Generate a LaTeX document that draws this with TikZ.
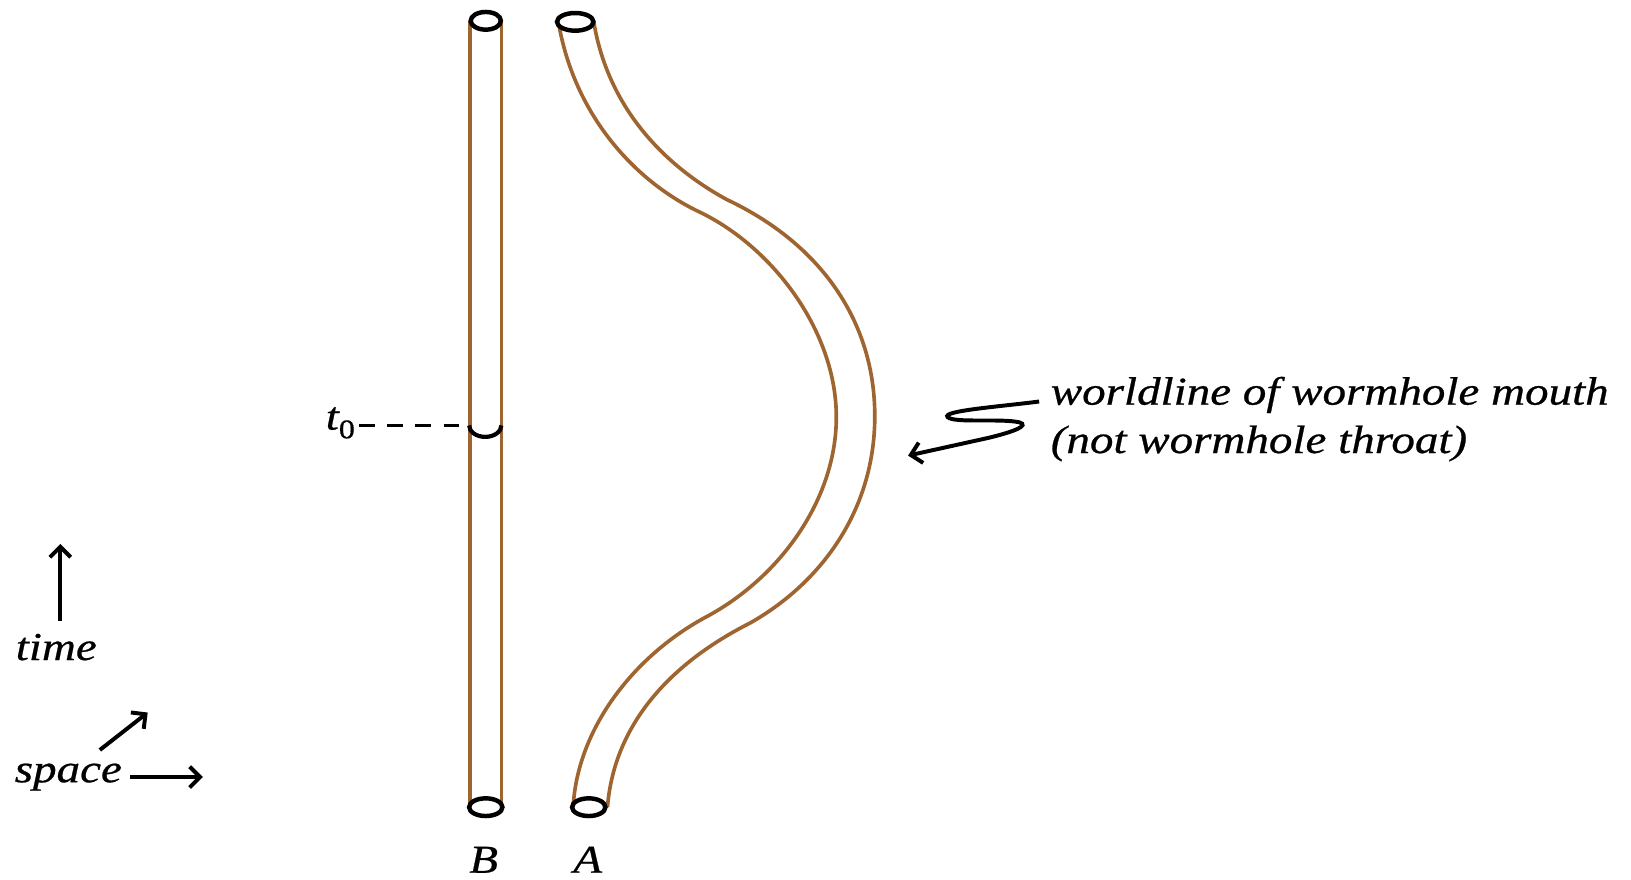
\documentclass[tikz,border=0pt]{standalone}
\usepackage{fontspec}
\setmainfont{Liberation Serif}[FakeStretch=1.19,FakeBold=0.6]
\usetikzlibrary{arrows.meta}
\definecolor{tube}{RGB}{158,101,48}
\tikzset{
  tubeline/.style={draw=tube, line width=3.5pt, line join=round},
  mouth/.style={draw=black, fill=white, line width=4.3pt},
  blackarrow/.style={draw=black, line width=3.8pt, -{Straight Barb[length=10pt,width=20pt,line width=3.8pt]}},
  txt/.style={inner sep=0pt, font=\fontsize{38}{46}\selectfont\itshape},
}
\begin{document}
\begin{tikzpicture}[x=1pt,y=-1pt]
\useasboundingbox (0,0) rectangle (1568,846);
% tube B
\draw[tubeline] (452,20) -- (452,776);
\draw[tubeline] (482,20) -- (482,776);
% tube A
\draw[tubeline] (537,22) .. controls (552,110) and (610,175) .. (675,205)
  .. controls (745,240) and (804,320) .. (804,401)
  .. controls (804,480) and (750,555) .. (679,593)
  .. controls (610,630) and (555,700) .. (551,776);
\draw[tubeline] (571,22) .. controls (585,105) and (640,160) .. (699,192)
  .. controls (790,235) and (841,310) .. (841,400)
  .. controls (841,490) and (790,560) .. (721,599)
  .. controls (640,640) and (590,700) .. (584,776);
% mouths
\draw[mouth] (467,20) ellipse [x radius=14.5, y radius=8.5];
\draw[mouth] (467,776) ellipse [x radius=16, y radius=8.5];
\draw[mouth] (553,21) ellipse [x radius=17.5, y radius=8.5];
\draw[mouth] (566,776) ellipse [x radius=16, y radius=8.5];
% t0 marker
\node[txt, anchor=base west] (t0) at (313,413) {t\raisebox{-0.22em}{\fontsize{26}{26}\selectfont\upshape 0}};
\coordinate (t0end) at (451,409);
\draw[black, line width=3.6pt, dash pattern=on 15pt off 12pt] ([xshift=4pt]t0.east |- t0end) -- (t0end);
\draw[black, line width=4pt] (451,409) arc[start angle=180, end angle=0, x radius=15.5, y radius=11];
% labels
\node[txt, anchor=base] (labB) at (465,839) {B};
\node[txt, anchor=base] (labA) at (565,839) {A};
\node[txt, anchor=base west] (lbl1) at (1010,389) {worldline of wormhole mouth};
\node[txt, anchor=base west] (lbl2) at (1010,435.5) {(not wormhole throat)};
% squiggle arrow
\coordinate (sqstart) at (999,386);
\coordinate (sqtip) at (873,438);
\draw[blackarrow] (sqstart) .. controls (960,391) and (905,395) .. (911,401) .. controls (917,407) and (962,402) .. (980,406) .. controls (990,409) and (975,415) .. (950,421) -- (sqtip);
% axes
\node[txt, anchor=base west] (time) at (15,634.5) {time};
\node[txt, anchor=base west] (space) at (14,752) {space};
\coordinate (timetop) at (58,523);
\draw[blackarrow] (58,597) -- (timetop);
\coordinate (spright) at (195,747);
\draw[blackarrow] (125,747) -- (spright);
\coordinate (diagtop) at (142,685);
\draw[blackarrow] (96,721) -- (diagtop);
\end{tikzpicture}
\end{document}
